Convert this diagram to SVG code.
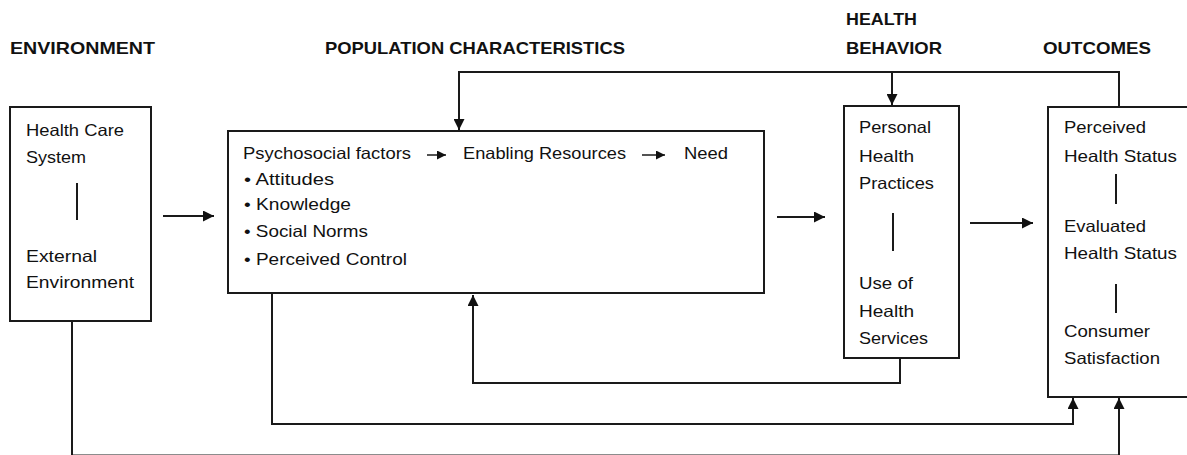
<svg xmlns="http://www.w3.org/2000/svg" width="1187" height="455" viewBox="0 0 1187 455">
<defs>
<style>
.box{fill:#fff;stroke:#1a1a1a;stroke-width:2}
.ln{fill:none;stroke:#1a1a1a;stroke-width:2}
.t{font-family:"Liberation Sans",Arial,sans-serif;font-size:16.5px;fill:#111}
.h{font-family:"Liberation Sans",Arial,sans-serif;font-size:16.5px;font-weight:bold;fill:#111}
</style>
<marker id="ah" viewBox="0 0 10 10" refX="10" refY="5" markerWidth="11" markerHeight="11" markerUnits="userSpaceOnUse" orient="auto">
<path d="M0,0 L10,5 L0,10 Z" fill="#111"/>
</marker>
<marker id="as" viewBox="0 0 10 10" refX="10" refY="5" markerWidth="9" markerHeight="9" markerUnits="userSpaceOnUse" orient="auto">
<path d="M0,0 L10,5 L0,10 Z" fill="#111"/>
</marker>
</defs>
<rect width="1187" height="455" fill="#fff"/>

<g id="headings">
<text class="h" x="10" y="54" textLength="145" lengthAdjust="spacingAndGlyphs">ENVIRONMENT</text>
<text class="h" x="325" y="54" textLength="300" lengthAdjust="spacingAndGlyphs">POPULATION CHARACTERISTICS</text>
<text class="h" x="846" y="25" textLength="71" lengthAdjust="spacingAndGlyphs">HEALTH</text>
<text class="h" x="846" y="54" textLength="96" lengthAdjust="spacingAndGlyphs">BEHAVIOR</text>
<text class="h" x="1043" y="54" textLength="108" lengthAdjust="spacingAndGlyphs">OUTCOMES</text>
</g>

<g id="connectors">
<line class="ln" x1="163" y1="216" x2="214" y2="216" marker-end="url(#ah)"/>
<line class="ln" x1="777" y1="217" x2="825" y2="217" marker-end="url(#ah)"/>
<line class="ln" x1="970" y1="223" x2="1033" y2="223" marker-end="url(#ah)"/>
<polyline class="ln" points="1119,107 1119,72 459,72 459,130" marker-end="url(#ah)"/>
<line class="ln" x1="892" y1="72" x2="892" y2="105" marker-end="url(#ah)"/>
<polyline class="ln" points="900,358 900,383 473,383 473,295" marker-end="url(#ah)"/>
<polyline class="ln" points="272,294 272,424 1073,424 1073,398" marker-end="url(#ah)"/>
<polyline class="ln" points="72,321 72,455.5 1119,455.5"/>
<line class="ln" x1="1119" y1="456" x2="1119" y2="398" marker-end="url(#ah)"/>
</g>

<g id="environment">
<rect class="box" x="10" y="107" width="141" height="214"/>
<text class="t" x="26" y="136" textLength="98" lengthAdjust="spacingAndGlyphs">Health Care</text>
<text class="t" x="26" y="163" textLength="60" lengthAdjust="spacingAndGlyphs">System</text>
<line class="ln" x1="77" y1="183" x2="77" y2="220"/>
<text class="t" x="26" y="262" textLength="71" lengthAdjust="spacingAndGlyphs">External</text>
<text class="t" x="26" y="288" textLength="108" lengthAdjust="spacingAndGlyphs">Environment</text>
</g>

<g id="population">
<rect class="box" x="228" y="131" width="536" height="162"/>
<text class="t" x="243" y="159" textLength="168" lengthAdjust="spacingAndGlyphs">Psychosocial factors</text>
<line class="ln" x1="427" y1="155" x2="446" y2="155" marker-end="url(#as)" style="stroke-width:1.5"/>
<text class="t" x="463" y="159" textLength="163" lengthAdjust="spacingAndGlyphs">Enabling Resources</text>
<line class="ln" x1="642" y1="155" x2="665" y2="155" marker-end="url(#as)" style="stroke-width:1.5"/>
<text class="t" x="684" y="159" textLength="44" lengthAdjust="spacingAndGlyphs">Need</text>
<text class="t" x="244" y="185" textLength="90" lengthAdjust="spacingAndGlyphs">• Attitudes</text>
<text class="t" x="244" y="210" textLength="107" lengthAdjust="spacingAndGlyphs">• Knowledge</text>
<text class="t" x="244" y="237" textLength="124" lengthAdjust="spacingAndGlyphs">• Social Norms</text>
<text class="t" x="244" y="265" textLength="163" lengthAdjust="spacingAndGlyphs">• Perceived Control</text>
</g>

<g id="health-behavior">
<rect class="box" x="844" y="106" width="115" height="252"/>
<text class="t" x="859" y="133" textLength="72" lengthAdjust="spacingAndGlyphs">Personal</text>
<text class="t" x="859" y="162" textLength="55" lengthAdjust="spacingAndGlyphs">Health</text>
<text class="t" x="859" y="189" textLength="75" lengthAdjust="spacingAndGlyphs">Practices</text>
<line class="ln" x1="893" y1="213" x2="893" y2="251"/>
<text class="t" x="859" y="289" textLength="54" lengthAdjust="spacingAndGlyphs">Use of</text>
<text class="t" x="859" y="317" textLength="55" lengthAdjust="spacingAndGlyphs">Health</text>
<text class="t" x="859" y="344" textLength="69" lengthAdjust="spacingAndGlyphs">Services</text>
</g>

<g id="outcomes">
<rect class="box" x="1048" y="107" width="150" height="290"/>
<text class="t" x="1064" y="133" textLength="82" lengthAdjust="spacingAndGlyphs">Perceived</text>
<text class="t" x="1064" y="162" textLength="113" lengthAdjust="spacingAndGlyphs">Health Status</text>
<line class="ln" x1="1116" y1="174" x2="1116" y2="204"/>
<text class="t" x="1064" y="232" textLength="82" lengthAdjust="spacingAndGlyphs">Evaluated</text>
<text class="t" x="1064" y="259" textLength="113" lengthAdjust="spacingAndGlyphs">Health Status</text>
<line class="ln" x1="1116" y1="284" x2="1116" y2="313"/>
<text class="t" x="1064" y="337" textLength="86" lengthAdjust="spacingAndGlyphs">Consumer</text>
<text class="t" x="1064" y="364" textLength="96" lengthAdjust="spacingAndGlyphs">Satisfaction</text>
</g>
</svg>
